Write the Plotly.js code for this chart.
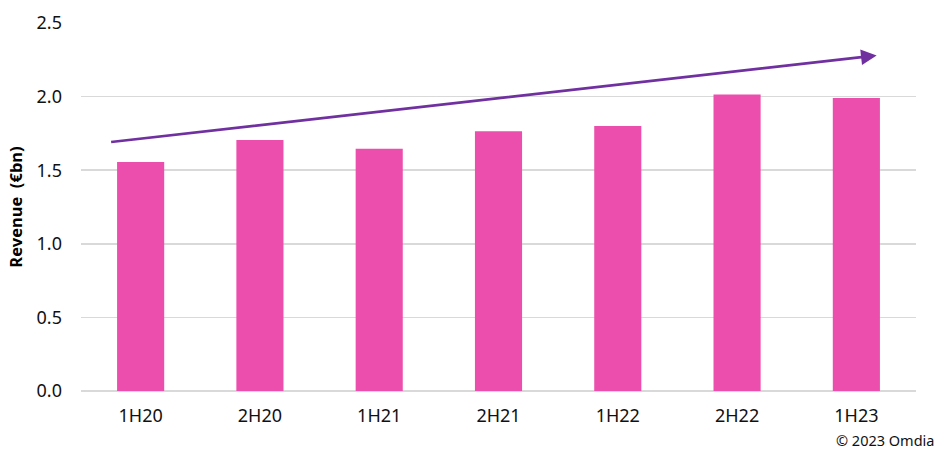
<!DOCTYPE html>
<html>
<head>
<meta charset="utf-8">
<script src="https://cdn.plot.ly/plotly-3.0.1.min.js"></script>
<style>html,body{margin:0;padding:0;background:#fff;}#chart{width:939px;height:472px;}</style>
</head>
<body>
<div id="chart"></div>
<script>
const categories = ["1H20", "2H20", "1H21", "2H21", "1H22", "2H22", "1H23"];
const revenue = [1.555, 1.705, 1.645, 1.765, 1.80, 2.015, 1.99];
const yTicks = [0, 0.5, 1.0, 1.5, 2.0, 2.5];
const yTickLabels = ["0.0", "0.5", "1.0", "1.5", "2.0", "2.5"];
const trendX = [-0.26, 6.17];
const trendY = [1.69, 2.28];

const fontFam = "'Noto Sans', sans-serif";

const data = [{
  type: "bar",
  x: categories,
  y: revenue,
  marker: {color: "#EC4EAE"},
  hoverinfo: "x+y"
}];

const layout = {
  width: 939, height: 472,
  margin: {l: 81, r: 23, t: 23, b: 81},
  paper_bgcolor: "#fff", plot_bgcolor: "#fff",
  bargap: 0.605,
  showlegend: false,
  font: {family: fontFam, size: 16, color: "#000"},
  xaxis: {
    type: "category",
    range: [-0.5, 6.5],
    showgrid: false, zeroline: false, showline: false,
    ticks: "", ticklabelstandoff: 12,
    tickfont: {family: fontFam, size: 18, color: "#111"}
  },
  yaxis: {
    range: [0, 2.5],
    tickvals: yTicks, ticktext: yTickLabels,
    showgrid: true, gridcolor: "#D9D9D9", gridwidth: 1.5,
    zeroline: true, zerolinecolor: "#D9D9D9", zerolinewidth: 1.5,
    showline: false, ticks: "", ticklabelstandoff: 18,
    tickfont: {family: fontFam, size: 18, color: "#111"},
    title: {text: "<b>Revenue  (€bn)</b>", standoff: 9, font: {family: fontFam, size: 16.5, color: "#000"}}
  },
  annotations: [
    {
      x: trendX[1], y: trendY[1], ax: trendX[0], ay: trendY[0],
      xref: "x", yref: "y", axref: "x", ayref: "y",
      showarrow: true, arrowhead: 2, arrowsize: 1.2, arrowwidth: 2.6,
      arrowcolor: "#7030A0", standoff: 0, startstandoff: 0, text: ""
    },
    {
      x: 1, y: 0, xref: "paper", yref: "paper",
      xanchor: "right", yanchor: "top", xshift: 20, yshift: -37,
      showarrow: false, text: "© 2023 Omdia",
      font: {family: fontFam, size: 14.5, color: "#111"}
    }
  ]
};

Plotly.newPlot("chart", data, layout, {displayModeBar: false, staticPlot: true});
</script>
</body>
</html>
